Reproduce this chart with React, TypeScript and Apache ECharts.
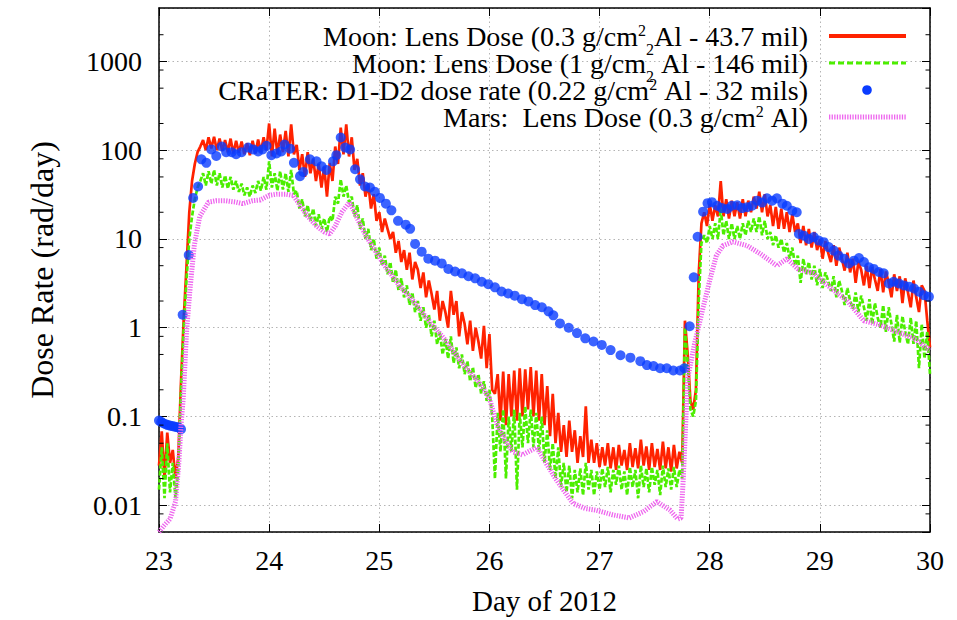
import React, { useEffect, useRef } from "react";
import * as echarts from "echarts";

// ---------- data ----------
const DAY_START = 23;
const DAY_STEP = 0.025;

// Moon: Lens Dose (0.3 g/cm2 Al) – sampled every 0.025 day from day 23.000
const moonLensDose03 = [
  0.028, 0.068, 0.02, 0.066, 0.03, 0.042, 0.02, 0.035, 0.25, 1.3, // 23.000
  5, 20, 45, 70, 95, 110, 130, 100, 140, 105, // 23.250
  142, 100, 135, 98, 130, 95, 135, 92, 128, 94, // 23.500
  125, 90, 120, 88, 128, 92, 132, 95, 140, 100, // 23.750
  200, 85, 175, 90, 150, 95, 165, 85, 195, 90, // 24.000
  115, 60, 90, 50, 95, 55, 80, 45, 70, 38, // 24.250
  65, 30, 72, 45, 110, 70, 180, 90, 195, 85, // 24.500
  140, 60, 80, 40, 55, 30, 42, 22, 32, 16, // 24.750
  20, 12, 17, 13, 10, 12, 7, 9.5, 5.5, 7.5, // 25.000
  4.5, 7, 3.5, 5.5, 4.5, 2.8, 4.2, 2.2, 3.4, 2.4, // 25.250
  1.6, 2.6, 1.2, 2.0, 1.5, 1.0, 2.6, 1.4, 2.0, 0.8, // 25.500
  1.5, 1.1, 0.65, 1.2, 0.55, 1.0, 0.7, 0.45, 1.05, 0.35, // 25.750
  0.85, 0.2, 0.18, 0.3, 0.09, 0.32, 0.08, 0.3, 0.1, 0.33, // 26.000
  0.09, 0.35, 0.1, 0.34, 0.12, 0.36, 0.1, 0.33, 0.09, 0.3, // 26.250
  0.08, 0.22, 0.06, 0.18, 0.05, 0.11, 0.04, 0.08, 0.035, 0.09, // 26.500
  0.04, 0.07, 0.03, 0.06, 0.035, 0.13, 0.03, 0.055, 0.03, 0.05, // 26.750
  0.027, 0.045, 0.028, 0.05, 0.026, 0.045, 0.025, 0.048, 0.028, 0.042, // 27.000
  0.025, 0.05, 0.027, 0.044, 0.026, 0.055, 0.028, 0.046, 0.025, 0.05, // 27.250
  0.027, 0.043, 0.025, 0.052, 0.026, 0.045, 0.024, 0.048, 0.026, 0.04, // 27.500
  0.03, 1.2, 0.5, 0.15, 0.12, 0.2, 4, 15, 20, 14, // 27.750
  25, 16, 24, 18, 45, 18, 28, 17, 27, 18, // 28.000
  26, 17, 28, 18, 27, 20, 30, 22, 34, 20, // 28.250
  32, 18, 24, 14, 23, 13, 22, 13, 20, 12, // 28.500
  19, 12, 15, 9, 14, 8.5, 13, 8, 12, 7.5, // 28.750
  10, 6, 9.5, 7, 5.5, 8.5, 5, 8, 6, 4.4, // 29.000
  7, 4.2, 6, 3.2, 5.5, 4.5, 3, 5, 2.8, 4.8, // 29.250
  3.5, 2.6, 4.6, 2.5, 4.3, 3.2, 2.2, 4, 2.6, 3.8, // 29.500
  1.9, 3.6, 2.5, 1.7, 3.4, 2.2, 1.5, 3.0, 2.6, 1.2, // 29.750
  0.6, // 30.000
];

// Moon: Lens Dose (1 g/cm2 Al) – same sampling
const moonLensDose1 = [
  0.015, 0.045, 0.012, 0.05, 0.014, 0.03, 0.012, 0.025, 0.2, 1.0, // 23.000
  3.5, 10, 18, 28, 38, 45, 55, 40, 58, 42, // 23.250
  60, 40, 55, 38, 52, 37, 50, 36, 45, 34, // 23.500
  42, 31, 38, 30, 40, 33, 45, 35, 50, 36, // 23.750
  75, 38, 55, 35, 58, 36, 55, 34, 60, 32, // 24.000
  35, 22, 28, 18, 24, 16, 22, 14, 19, 13, // 24.250
  17, 12, 18, 16, 30, 25, 47, 30, 40, 26, // 24.500
  30, 18, 24, 13, 17, 10, 13, 7.5, 10, 6, // 24.750
  8, 5, 6.5, 4, 5.5, 3.2, 4.5, 2.6, 3.6, 2.2, // 25.000
  3, 1.8, 2.5, 1.5, 2, 1.2, 1.7, 1.0, 1.4, 0.8, // 25.250
  1.2, 0.65, 0.9, 0.5, 0.75, 0.45, 0.8, 0.4, 0.6, 0.35, // 25.500
  0.5, 0.3, 0.42, 0.25, 0.36, 0.21, 0.3, 0.18, 0.25, 0.15, // 25.750
  0.2, 0.1, 0.02, 0.11, 0.04, 0.12, 0.02, 0.1, 0.04, 0.12, // 26.000
  0.015, 0.11, 0.045, 0.13, 0.05, 0.12, 0.045, 0.11, 0.04, 0.1, // 26.250
  0.03, 0.07, 0.025, 0.05, 0.02, 0.045, 0.016, 0.03, 0.014, 0.028, // 26.500
  0.012, 0.025, 0.014, 0.026, 0.013, 0.03, 0.015, 0.025, 0.013, 0.024, // 26.750
  0.015, 0.026, 0.016, 0.027, 0.014, 0.025, 0.017, 0.028, 0.015, 0.024, // 27.000
  0.013, 0.027, 0.016, 0.025, 0.012, 0.028, 0.016, 0.026, 0.014, 0.027, // 27.250
  0.017, 0.025, 0.013, 0.028, 0.016, 0.026, 0.015, 0.027, 0.016, 0.025, // 27.500
  0.02, 1.0, 0.4, 0.12, 0.1, 0.15, 2, 9, 11, 9, // 27.750
  14, 10, 15, 10, 22, 11, 16, 10, 15, 10, // 28.000
  14, 10, 15, 11, 16, 12, 17, 12, 18, 11, // 28.250
  16, 10, 12, 8.5, 11, 8, 10, 7, 9, 6, // 28.500
  8, 5, 6.5, 3.2, 6, 4, 5.5, 3.5, 5, 3, // 28.750
  4.6, 2.8, 4.2, 3.4, 2.6, 3.8, 2.2, 3.4, 2.6, 1.8, // 29.000
  2.8, 2.0, 1.65, 2.5, 1.5, 2.3, 1.7, 1.2, 2.1, 1.1, // 29.250
  1.9, 1.3, 1.0, 1.8, 0.9, 1.7, 1.1, 0.7, 1.4, 0.68, // 29.500
  1.35, 0.9, 0.65, 1.3, 0.66, 1.2, 0.35, 1.1, 0.45, 0.9, // 29.750
  0.3, // 30.000
];

// CRaTER D1-D2 dose rate
const craterDays = [
  23.0, 23.02, 23.04, 23.06, 23.08, 23.1, 23.12, 23.14, 23.16, 23.18,
  23.2, 23.215, 23.27, 23.31, 23.355, 23.385, 23.43, 23.475, 23.52, 23.57,
  23.61, 23.66, 23.7, 23.75, 23.81, 23.855, 23.9, 23.94, 23.976, 24.02,
  24.067, 24.11, 24.14, 24.19, 24.225, 24.28, 24.31, 24.37, 24.43, 24.476,
  24.52, 24.58, 24.61, 24.65, 24.69, 24.735, 24.78, 24.825, 24.87, 24.915,
  24.96, 25.006, 25.06, 25.11, 25.17, 25.24, 25.28, 25.325, 25.385, 25.445,
  25.506, 25.567, 25.627, 25.688, 25.75, 25.81, 25.87, 25.93, 25.99, 26.05,
  26.11, 26.17, 26.23, 26.295, 26.355, 26.415, 26.476, 26.536, 26.58, 26.64,
  26.72, 26.795, 26.87, 26.945, 27.02, 27.1, 27.19, 27.28, 27.37, 27.43,
  27.49, 27.55, 27.61, 27.67, 27.73, 27.77, 27.818, 27.855, 27.89, 27.94,
  27.98, 28.02, 28.067, 28.11, 28.16, 28.2, 28.25, 28.295, 28.34, 28.385,
  28.43, 28.476, 28.52, 28.567, 28.61, 28.66, 28.7, 28.75, 28.79, 28.81,
  28.855, 28.9, 28.945, 28.99, 29.036, 29.08, 29.127, 29.17, 29.22, 29.264,
  29.31, 29.355, 29.4, 29.446, 29.49, 29.536, 29.58, 29.627, 29.67, 29.718,
  29.764, 29.81, 29.855, 29.9, 29.945, 29.99,
];
const craterDose = [
  0.09, 0.087, 0.084, 0.082, 0.08, 0.079, 0.078, 0.077, 0.076, 0.075,
  0.072, 1.4, 6.6, 29, 39, 79, 72, 102, 86, 110,
  95, 95, 90, 95, 107, 102, 97, 102, 112, 88,
  92, 97, 116, 104, 72, 51, 57, 79, 75, 66,
  60, 75, 88, 139, 107, 102, 61, 47, 39, 38,
  34, 29, 25, 21, 16, 14.5, 13, 8.8, 7.2, 6,
  5.7, 5.3, 4.6, 4.3, 4.1, 3.8, 3.6, 3.3, 3.1, 2.85,
  2.56, 2.43, 2.3, 2.1, 1.98, 1.8, 1.7, 1.53, 1.38, 1.12,
  1.0, 0.87, 0.76, 0.7, 0.64, 0.56, 0.49, 0.46, 0.42, 0.38,
  0.37, 0.35, 0.35, 0.33, 0.33, 0.35, 1.04, 3.7, 10.6, 20.3,
  25.3, 26, 23.7, 22.3, 21.8, 23.7, 24, 22.3, 22.8, 23.7,
  27, 25.7, 28.7, 27, 28.7, 25, 23.7, 20.8, 20, 11.4,
  10.9, 10, 10.5, 9.6, 9.2, 8.1, 7.4, 6.5, 6, 5.3,
  5.7, 6.1, 5.5, 4.8, 4.6, 4.25, 4.1, 3.15, 3.3, 3.15,
  3.0, 2.9, 2.77, 2.55, 2.33, 2.24,
];

// Mars: Lens Dose (0.3 g/cm2 Al)
const marsDays = [
  23.0, 23.05, 23.1, 23.15, 23.18, 23.2, 23.22, 23.25, 23.28, 23.32,
  23.37, 23.45, 23.52, 23.6, 23.7, 23.76, 23.85, 23.92, 24.0, 24.07,
  24.15, 24.22, 24.28, 24.35, 24.43, 24.5, 24.55, 24.6, 24.66, 24.73,
  24.8, 24.88, 24.96, 25.04, 25.19, 25.31, 25.45, 25.61, 25.75, 25.92,
  26.0, 26.07, 26.14, 26.21, 26.3, 26.43, 26.52, 26.6, 26.67, 26.76,
  26.87, 26.97, 27.12, 27.27, 27.4, 27.52, 27.64, 27.71, 27.74, 27.76,
  27.8, 27.86, 27.93, 28.0, 28.06, 28.12, 28.21, 28.34, 28.46, 28.61,
  28.7, 28.8, 28.94, 29.1, 29.25, 29.4, 29.55, 29.7, 29.85, 30.0,
];
const marsDose = [
  0.005, 0.006, 0.007, 0.011, 0.03, 0.08, 0.16, 0.9, 2.6, 8.4,
  18, 26, 27, 27, 26, 25, 27, 27.5, 31, 32,
  32, 31, 24, 18, 14, 12, 11.4, 14, 20, 26,
  17, 10.8, 7.5, 5.2, 2.9, 2.0, 1.2, 0.7, 0.4, 0.23,
  0.16, 0.08, 0.055, 0.04, 0.037, 0.045, 0.029, 0.02, 0.015, 0.0105,
  0.0092, 0.0088, 0.0078, 0.0072, 0.0085, 0.011, 0.0088, 0.007, 0.0072, 0.02,
  0.27, 0.64, 1.5, 3.4, 6.5, 8.4, 9.3, 8.4, 6.8, 5,
  6, 4.6, 4.1, 2.8, 2.0, 1.2, 1.07, 0.9, 0.76, 0.56,
];

// log-axis minor tick positions (as drawn in the original)
const minorTickValues = [
  0.008, 0.02, 0.05, 0.08, 0.2, 0.5, 0.8, 2, 5, 8, 20, 50, 80, 200, 500, 800, 2000,
];

const seriesNames = [
  "Moon: Lens Dose (0.3 g/cm2 Al - 43.7 mil)",
  "Moon: Lens Dose (1 g/cm2 Al - 146 mil)",
  "CRaTER: D1-D2 dose rate (0.22 g/cm2 Al - 32 mils)",
  "Mars:  Lens Dose (0.3 g/cm2 Al)",
];
const legendRich = [
  "{t|Moon: Lens Dose (0.3 g/cm}{sup|2}{sub|2}{t|Al - 43.7 mil)}",
  "{t|Moon: Lens Dose (1 g/cm}{sub|2}{t| Al - 146 mil)}",
  "{t|CRaTER: D1-D2 dose rate (0.22 g/cm}{sup|2}{t| Al - 32 mils)}",
  "{t|Mars:  Lens Dose (0.3 g/cm}{sup|2}{t| Al)}",
];

const X_MIN = 23;
const X_MAX = 30;
const Y_MIN = 0.005;
const Y_MAX = 4000;

// ---------- styles ----------
const FONT = "'Liberation Serif', 'Times New Roman', Times, serif";
const RED = "#ff2200";
const GREEN = "#4cee00";
const BLUE = "#0a3cff";
const PINK = "#ee66ee";

export default function App() {
  const ref = useRef<HTMLDivElement>(null);

  useEffect(() => {
    if (!ref.current) return;
    const chart = echarts.init(ref.current, undefined, { renderer: "svg" });

    const axisLine = { show: true, onZero: false, lineStyle: { color: "#000", width: 1.5 } };
    const axisTick = { show: true, inside: true, length: 8, lineStyle: { color: "#000", width: 1 } };
    const gridLine = { show: true, lineStyle: { color: "#b4b4b4", width: 1, type: [1.5, 3] as any } };

    const fmtY = (v: number) => {
      if (v >= 1) return String(Math.round(v));
      return String(Number(v.toPrecision(1)));
    };

    const legendX = 808;
    const legendRows = [36, 63, 90, 117];

    const option: any = {
      animation: false,
      backgroundColor: "#fff",
      textStyle: { fontFamily: FONT },
      grid: { left: 159, right: 27, top: 8, bottom: 85, containLabel: false },
      xAxis: [
        {
          type: "value",
          min: X_MIN,
          max: X_MAX,
          interval: 1,
          position: "bottom",
          axisLine,
          axisTick,
          axisLabel: { color: "#000", fontSize: 28, fontFamily: FONT, margin: 14 },
          splitLine: gridLine,
          name: "Day of 2012",
          nameLocation: "middle",
          nameGap: 54,
          nameTextStyle: { color: "#000", fontSize: 29, fontFamily: FONT },
        },
        {
          type: "value",
          min: X_MIN,
          max: X_MAX,
          interval: 1,
          position: "top",
          axisLine,
          axisTick,
          axisLabel: { show: false },
          splitLine: { show: false },
        },
      ],
      yAxis: [
        {
          type: "log",
          logBase: 10,
          min: Y_MIN,
          max: Y_MAX,
          position: "left",
          axisLine,
          axisTick,
          axisLabel: {
            color: "#000",
            fontSize: 28,
            fontFamily: FONT,
            margin: 17,
            showMinLabel: false,
            showMaxLabel: false,
            formatter: fmtY,
          },
          splitLine: gridLine,
          name: "Dose Rate (rad/day)",
          nameLocation: "middle",
          nameGap: 101,
          nameRotate: 90,
          nameTextStyle: { color: "#000", fontSize: 32, fontFamily: FONT },
        },
        {
          type: "log",
          logBase: 10,
          min: Y_MIN,
          max: Y_MAX,
          position: "right",
          axisLine,
          axisTick,
          axisLabel: { show: false },
          splitLine: { show: false },
        },
      ],
      series: [
        {
          type: "line",
          name: seriesNames[0],
          data: moonLensDose03.map((v, i) => [DAY_START + i * DAY_STEP, v]),
          symbol: "none",
          showSymbol: false,
          lineStyle: { color: RED, width: 2.7 },
          z: 2,
        },
        {
          type: "line",
          name: seriesNames[1],
          data: moonLensDose1.map((v, i) => [DAY_START + i * DAY_STEP, v]),
          symbol: "none",
          showSymbol: false,
          lineStyle: { color: GREEN, width: 2.7, type: [5, 2] },
          z: 3,
        },
        {
          type: "scatter",
          name: seriesNames[2],
          data: craterDays.map((d, i) => [d, craterDose[i]]),
          symbol: "circle",
          symbolSize: 10,
          itemStyle: { color: BLUE },
          z: 4,
        },
        {
          type: "line",
          name: seriesNames[3],
          data: marsDays.map((d, i) => [d, marsDose[i]]),
          symbol: "none",
          showSymbol: false,
          lineStyle: { color: PINK, width: 5, type: [1.3, 1.3], cap: "butt" },
          z: 5,
        },
        {
          type: "custom",
          name: "minor ticks",
          silent: true,
          clip: false,
          z: 10,
          data: minorTickValues.map((v) => [X_MIN, v]),
          renderItem: (params: any, api: any) => {
            const cs = params.coordSys;
            const y = api.coord([api.value(0), api.value(1)])[1];
            return {
              type: "group",
              children: [
                { type: "line", shape: { x1: cs.x, y1: y, x2: cs.x + 4.5, y2: y }, style: { stroke: "#000", lineWidth: 1 } },
                {
                  type: "line",
                  shape: { x1: cs.x + cs.width - 4.5, y1: y, x2: cs.x + cs.width, y2: y },
                  style: { stroke: "#000", lineWidth: 1 },
                },
              ],
            };
          },
        },
      ],
      graphic: [
        ...legendRich.map((txt, k) => ({
          type: "text",
          x: legendX,
          y: legendRows[k],
          z: 20,
          style: {
            text: txt,
            fill: "#000",
            fontSize: 28,
            fontFamily: FONT,
            align: "right",
            textAlign: "right",
            verticalAlign: "middle",
            textVerticalAlign: "middle",
            rich: {
              t: { fontSize: 28, fontFamily: FONT, fill: "#000", color: "#000" },
              sup: { fontSize: 16, fontFamily: FONT, fill: "#000", color: "#000", padding: [0, 0, 12, 0] },
              sub: { fontSize: 16, fontFamily: FONT, fill: "#000", color: "#000", padding: [26, 0, 0, 0] },
            },
          },
        })),
        {
          type: "line",
          z: 20,
          shape: { x1: 829, y1: legendRows[0], x2: 906, y2: legendRows[0] },
          style: { stroke: RED, lineWidth: 4 },
        },
        {
          type: "line",
          z: 20,
          shape: { x1: 829, y1: legendRows[1], x2: 906, y2: legendRows[1] },
          style: { stroke: GREEN, lineWidth: 3, lineDash: [6, 3] },
        },
        {
          type: "circle",
          z: 20,
          shape: { cx: 867, cy: legendRows[2], r: 4.8 },
          style: { fill: BLUE },
        },
        {
          type: "line",
          z: 20,
          shape: { x1: 829, y1: legendRows[3], x2: 906, y2: legendRows[3] },
          style: { stroke: PINK, lineWidth: 5, lineDash: [1.3, 1.3], lineCap: "butt" },
        },
      ],
    };

    chart.setOption(option);
    return () => chart.dispose();
  }, []);

  return (
    <div
      ref={ref}
      style={{ position: "fixed", left: 0, top: 0, width: 957, height: 620, background: "#fff" }}
    />
  );
}
